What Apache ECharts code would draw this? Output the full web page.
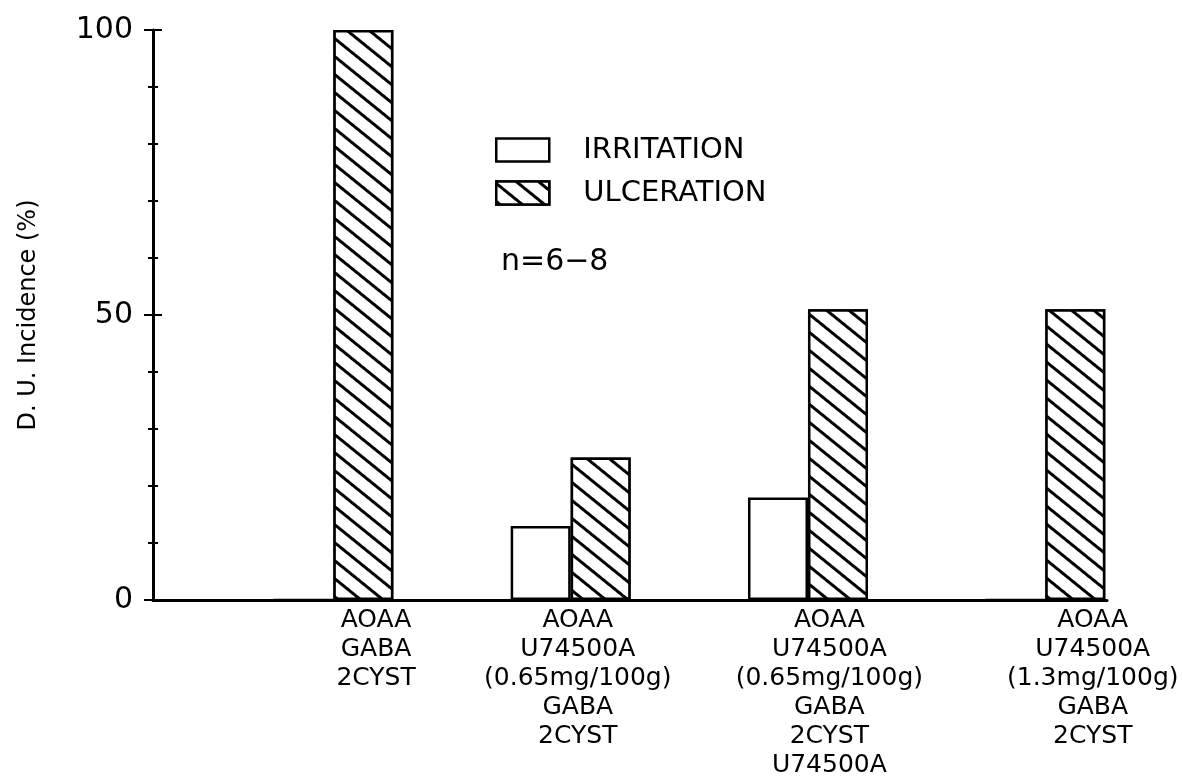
<!DOCTYPE html>
<html>
<head>
<meta charset="utf-8">
<script src="https://cdn.jsdelivr.net/npm/echarts@6/dist/echarts.min.js"></script>
<style>
  html, body { margin: 0; padding: 0; background: #fff; }
  #chart { width: 1183px; height: 783px; }
</style>
</head>
<body>
<div id="chart"></div>
<script>
// data
const groups = [1, 2, 3, 4];
const categories = [
  'AOAA\nGABA\n2CYST',
  'AOAA\nU74500A\n(0.65mg/100g)\nGABA\n2CYST',
  'AOAA\nU74500A\n(0.65mg/100g)\nGABA\n2CYST\nU74500A',
  'AOAA\nU74500A\n(1.3mg/100g)\nGABA\n2CYST'
];
const irritation = [0, 13, 18, 0];
const ulceration = [100, 25, 51, 51];
const yTicks = [0, 50, 100];

// where the labels sit under each group (axis units, label placement only)
const labelAt = [1.18, 2.03, 3.09, 4.2];

const font = 'DejaVu Sans';
const ink = '#000';

const hatch = {
  symbol: 'rect',
  symbolSize: 1,
  color: ink,
  backgroundColor: '#fff',
  dashArrayX: [1, 0],
  dashArrayY: [2.6, 11],
  rotation: 0.68
};

const chart = echarts.init(document.getElementById('chart'));

const option = {
  animation: false,
  backgroundColor: '#fff',
  textStyle: { fontFamily: font, color: ink },
  grid: { left: 153, right: 76, top: 30, bottom: 183, outerBoundsMode: 'none' },
  legend: {
    orient: 'vertical',
    left: 495,
    top: 135,
    padding: 0,
    itemWidth: 53,
    itemHeight: 23,
    itemGap: 13,
    icon: 'rect',
    itemStyle: { borderWidth: 2.5 },
    textStyle: { fontFamily: font, fontSize: 29, lineHeight: 30, color: ink, padding: [0, 0, 0, 29] },
    data: ['IRRITATION', 'ULCERATION']
  },
  graphic: [{
    type: 'text',
    left: 501,
    top: 247,
    style: { text: 'n=6\u22128', font: '30px "DejaVu Sans"', fill: ink }
  }],
  xAxis: {
    type: 'value',
    min: 0.24,
    max: 4.26,
    splitLine: { show: false },
    axisTick: { show: false },
    axisLine: { show: true, lineStyle: { color: ink, width: 3 } },
    axisLabel: {
      customValues: labelAt,
      margin: 6,
      fontFamily: font,
      fontSize: 25,
      lineHeight: 29,
      color: ink,
      formatter: (v) => categories[labelAt.indexOf(v)]
    }
  },
  yAxis: [{
    type: 'value',
    min: 0,
    max: 100,
    interval: 50,
    name: 'D. U. Incidence (%)',
    nameLocation: 'middle',
    nameGap: 112,
    nameTextStyle: { fontFamily: font, fontSize: 24, color: ink },
    splitLine: { show: false },
    axisLine: { show: true, lineStyle: { color: ink, width: 3 } },
    axisTick: { show: true, length: 9, lineStyle: { color: ink, width: 2 } },
    minorTick: { show: true, splitNumber: 5, length: 5, lineStyle: { color: ink, width: 2 } },
    axisLabel: {
      margin: 20,
      fontFamily: font,
      fontSize: 30,
      color: ink,
      customValues: yTicks
    }
  }, {
    type: 'value',
    position: 'left',
    min: 0,
    max: 100,
    interval: 50,
    splitLine: { show: false },
    axisLine: { show: false },
    axisLabel: { show: false },
    axisTick: { show: true, inside: true, length: 9, lineStyle: { color: ink, width: 2 } },
    minorTick: { show: true, splitNumber: 5, length: 5, lineStyle: { color: ink, width: 2 } }
  }],
  series: [
    {
      name: 'IRRITATION',
      type: 'bar',
      barWidth: 60,
      barGap: '0%',
      data: groups.map((g, i) => [g, irritation[i]]),
      itemStyle: { color: '#fff', borderColor: ink, borderWidth: 2.5 }
    },
    {
      name: 'ULCERATION',
      type: 'bar',
      barWidth: 60,
      barGap: '0%',
      data: groups.map((g, i) => [g, ulceration[i]]),
      itemStyle: { color: '#fff', borderColor: ink, borderWidth: 2.5, decal: hatch }
    }
  ]
};

chart.setOption(option);
</script>
</body>
</html>
